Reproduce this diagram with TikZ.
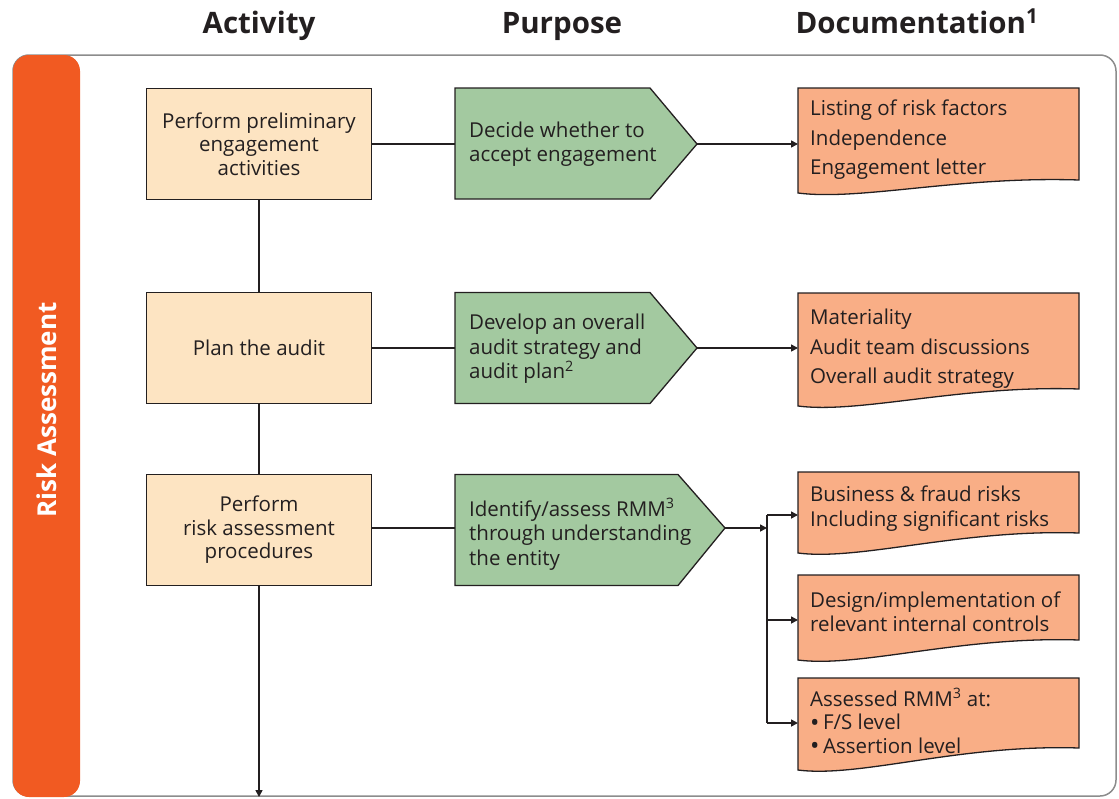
\documentclass[tikz,border=0pt]{standalone}
\usepackage{fontspec}
\setmainfont{Open Sans}
\usetikzlibrary{arrows.meta}
\definecolor{txt}{HTML}{231F20}
\definecolor{barorange}{HTML}{F15A22}
\definecolor{actfill}{HTML}{FDE4C2}
\definecolor{purfill}{HTML}{A3C9A0}
\definecolor{docfill}{HTML}{F9AE86}
\definecolor{framegray}{HTML}{8C8C8C}
\newcommand{\bigbul}{\smash{\raisebox{-1.5pt}{\fontsize{25}{23.5}\selectfont •}}\,}
\tikzset{
  every node/.style={text=txt},
  actbox/.style={draw=txt, line width=1.3pt, fill=actfill, minimum width=225pt, minimum height=111pt, align=center, font=\fontsize{20.5}{23.5}\selectfont, inner sep=0pt},
  purshape/.style={draw=txt, line width=1.3pt, fill=purfill},
  purtext/.style={anchor=west, align=left, font=\fontsize{20.5}{24.5}\selectfont, inner sep=0pt},
  docshape/.style={draw=txt, line width=1.3pt, fill=docfill},
  doctext/.style={anchor=north west, align=left, inner sep=0pt},
  conn/.style={draw=txt, line width=1.6pt},
  arr/.style={conn, -{Triangle[length=7pt,width=7pt]}},
  header/.style={anchor=base, font=\bfseries\fontsize{29.5}{32}\selectfont},
}
\begin{document}
\begin{tikzpicture}[x=1pt,y=-1pt]
\useasboundingbox (0,0) rectangle (1119,798);
% frame
\draw[framegray, line width=1.5pt, rounded corners=16pt] (13,55) rectangle (1116,796);
\fill[barorange, rounded corners=16pt] (13,55) rectangle (80,797);
\node[rotate=90, text=white, font=\bfseries\fontsize{26}{28}\selectfont] (bar) at (47,410) {Risk Assessment};
% headers
\node[header] (h1) at (259,33) {Activity};
\node[header] (h2) at (562,33) {Purpose};
\node[header] (h3) at (917,33) {Documentation\textsuperscript{1}};
% activity boxes
\node[actbox] (a1) at (259,144) {Perform preliminary\\engagement\\activities};
\node[actbox] (a2) at (259,348) {Plan the audit};
\node[actbox] (a3) at (259,530) {Perform\\risk assessment\\procedures};
\coordinate (aend) at (259,797);
\draw[conn] (a1.south) -- (a2.north);
\draw[conn] (a2.south) -- (a3.north);
\draw[arr] (a3.south) -- (aend);
% purpose shapes
\path[purshape] (455,88) -- (650,88) -- (697,144) -- (650,199) -- (455,199) -- cycle;
\path[purshape] (455,292.5) -- (650,292.5) -- (697,348) -- (650,403.5) -- (455,403.5) -- cycle;
\path[purshape] (455,474.5) -- (678,474.5) -- (725,528) -- (678,585.5) -- (455,585.5) -- cycle;
\node[purtext] (p1) at (469,144) {Decide whether to\\accept engagement};
\node[purtext] (p2) at (469,349) {Develop an overall\\audit strategy and\\audit plan\textsuperscript{2}};
\node[purtext] (p3) at (469,534) {Identify/assess RMM\textsuperscript{3}\\through understanding\\the entity};
\coordinate (p1in) at (455,144);
\coordinate (p2in) at (455,348);
\coordinate (p3in) at (455,528);
\coordinate (p1tip) at (697,144);
\coordinate (p2tip) at (697,348);
\coordinate (p3tip) at (725,528);
\draw[conn] (a1.east) -- (p1in);
\draw[conn] (a2.east) -- (p2in);
\draw[conn] (a3.east |- p3in) -- (p3in);
% documentation shapes
\path[docshape] (798,88) -- (1079,88) -- (1079,180) .. controls (960,176) and (860,201) .. (798,193) -- cycle;
\path[docshape] (798,293) -- (1079,293) -- (1079,389) .. controls (960,385) and (860,414) .. (798,406) -- cycle;
\path[docshape] (798,472) -- (1079,472) -- (1079,533) .. controls (960,529) and (860,561) .. (798,553) -- cycle;
\path[docshape] (798,575) -- (1079,575) -- (1079,640) .. controls (960,636) and (860,668) .. (798,660) -- cycle;
\path[docshape] (798,678) -- (1079,678) -- (1079,748) .. controls (960,744) and (860,778) .. (798,770) -- cycle;
\node[doctext, font=\fontsize{20.5}{29.5}\selectfont] (d1) at (810,100) {Listing of risk factors\\Independence\\Engagement letter};
\node[doctext, font=\fontsize{20.5}{29.5}\selectfont] (d2) at (810,309) {Materiality\\Audit team discussions\\Overall audit strategy};
\node[doctext, font=\fontsize{20.5}{25}\selectfont] (d3) at (810,486) {Business \& fraud risks\\Including significant risks};
\node[doctext, font=\fontsize{20.5}{24}\selectfont] (d4) at (810,592) {Design/implementation of\\relevant internal controls};
\node[doctext, font=\fontsize{20.5}{23.5}\selectfont] (d5) at (810,688) {Assessed RMM\textsuperscript{3} at:\\\bigbul F/S level\\\bigbul Assertion level};
\coordinate (d1in) at (798,144);
\coordinate (d2in) at (798,348);
\coordinate (d3in) at (798,515);
\coordinate (d4in) at (798,620);
\coordinate (d5in) at (798,723);
\coordinate (bus) at (767,528);
\coordinate (bustop) at (767,515);
\coordinate (busbot) at (767,723);
\draw[arr] (p1tip) -- (d1in);
\draw[arr] (p2tip) -- (d2in);
\draw[arr] (p3tip) -- (bus);
\draw[conn] (bustop) -- (busbot);
\draw[arr] (bustop) -- (d3in);
\draw[arr] (767,620) -- (d4in);
\draw[arr] (busbot) -- (d5in);
\end{tikzpicture}
\end{document}
